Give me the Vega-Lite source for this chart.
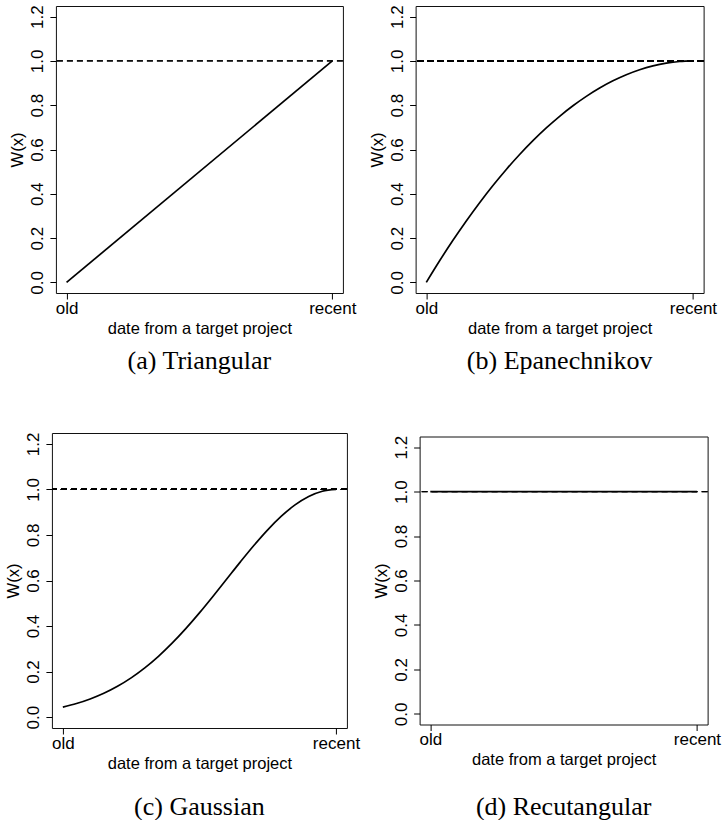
{
  "$schema": "https://vega.github.io/schema/vega-lite/v6.json",
  "padding": {"left": 4.5, "top": 4, "right": 0, "bottom": 0},
  "background": "white",
  "datasets": {
    "kernels": [
      {"kernel": "Triangular", "x": 0, "w": 0},
      {"kernel": "Triangular", "x": 1, "w": 1},
      {"kernel": "Epanechnikov", "x": 0, "w": 0},
      {"kernel": "Epanechnikov", "x": 0.05, "w": 0.0975},
      {"kernel": "Epanechnikov", "x": 0.1, "w": 0.19},
      {"kernel": "Epanechnikov", "x": 0.15, "w": 0.2775},
      {"kernel": "Epanechnikov", "x": 0.2, "w": 0.36},
      {"kernel": "Epanechnikov", "x": 0.25, "w": 0.4375},
      {"kernel": "Epanechnikov", "x": 0.3, "w": 0.51},
      {"kernel": "Epanechnikov", "x": 0.35, "w": 0.5775},
      {"kernel": "Epanechnikov", "x": 0.4, "w": 0.64},
      {"kernel": "Epanechnikov", "x": 0.45, "w": 0.6975},
      {"kernel": "Epanechnikov", "x": 0.5, "w": 0.75},
      {"kernel": "Epanechnikov", "x": 0.55, "w": 0.7975},
      {"kernel": "Epanechnikov", "x": 0.6, "w": 0.84},
      {"kernel": "Epanechnikov", "x": 0.65, "w": 0.8775},
      {"kernel": "Epanechnikov", "x": 0.7, "w": 0.91},
      {"kernel": "Epanechnikov", "x": 0.75, "w": 0.9375},
      {"kernel": "Epanechnikov", "x": 0.8, "w": 0.96},
      {"kernel": "Epanechnikov", "x": 0.85, "w": 0.9775},
      {"kernel": "Epanechnikov", "x": 0.9, "w": 0.99},
      {"kernel": "Epanechnikov", "x": 0.95, "w": 0.9975},
      {"kernel": "Epanechnikov", "x": 1, "w": 1},
      {"kernel": "Gaussian", "x": 0, "w": 0.0439},
      {"kernel": "Gaussian", "x": 0.05, "w": 0.0596},
      {"kernel": "Gaussian", "x": 0.1, "w": 0.0796},
      {"kernel": "Gaussian", "x": 0.15, "w": 0.1046},
      {"kernel": "Gaussian", "x": 0.2, "w": 0.1353},
      {"kernel": "Gaussian", "x": 0.25, "w": 0.1724},
      {"kernel": "Gaussian", "x": 0.3, "w": 0.2163},
      {"kernel": "Gaussian", "x": 0.35, "w": 0.2671},
      {"kernel": "Gaussian", "x": 0.4, "w": 0.3247},
      {"kernel": "Gaussian", "x": 0.45, "w": 0.3886},
      {"kernel": "Gaussian", "x": 0.5, "w": 0.4578},
      {"kernel": "Gaussian", "x": 0.55, "w": 0.5311},
      {"kernel": "Gaussian", "x": 0.6, "w": 0.6065},
      {"kernel": "Gaussian", "x": 0.65, "w": 0.6819},
      {"kernel": "Gaussian", "x": 0.7, "w": 0.7548},
      {"kernel": "Gaussian", "x": 0.75, "w": 0.8226},
      {"kernel": "Gaussian", "x": 0.8, "w": 0.8825},
      {"kernel": "Gaussian", "x": 0.85, "w": 0.9321},
      {"kernel": "Gaussian", "x": 0.9, "w": 0.9692},
      {"kernel": "Gaussian", "x": 0.95, "w": 0.9922},
      {"kernel": "Gaussian", "x": 1, "w": 1},
      {"kernel": "Rectangular", "x": 0, "w": 1},
      {"kernel": "Rectangular", "x": 1, "w": 1}
    ]
  },
  "config": {
    "view": {"stroke": "#111", "strokeWidth": 1},
    "axis": {
      "domain": false,
      "grid": false,
      "tickColor": "black",
      "tickSize": 6,
      "tickWidth": 1,
      "labelFont": "Liberation Sans",
      "labelFontSize": 17,
      "labelColor": "black",
      "titleFont": "Liberation Sans",
      "titleFontSize": 16.5,
      "titleFontWeight": "normal",
      "titleColor": "black"
    },
    "axisX": {"labelPadding": 1, "titlePadding": 4, "labelFlush": false},
    "axisY": {"labelPadding": 3, "titlePadding": 3, "labelAngle": -90, "labelAlign": "center", "labelBaseline": "bottom", "labelFlush": false},
    "title": {"font": "Liberation Serif", "fontSize": 26, "fontWeight": "normal", "color": "black", "orient": "bottom", "offset": 11, "anchor": "middle"},
    "line": {"color": "black", "strokeWidth": 1.7},
    "rule": {"color": "black", "strokeWidth": 1.3, "strokeDash": [6, 4]}
  },
  "spacing": 57,
  "center": true,
  "vconcat": [
    {
      "hconcat": [
        {
          "width": 287, "height": 287,
          "title": {"text": "(a) Triangular"},
          "data": {"name": "kernels"},
          "transform": [{"filter": "datum.kernel == 'Triangular'"}],
          "layer": [
            {"mark": {"type": "line"},
             "encoding": {
               "x": {"field": "x", "type": "quantitative", "scale": {"domain": [-0.04, 1.04], "nice": false, "zero": false}, "axis": {"values": [0, 1], "labelExpr": "datum.value == 0 ? 'old' : 'recent'", "title": "date from a target project"}},
               "y": {"field": "w", "type": "quantitative", "scale": {"domain": [-0.048, 1.248], "nice": false, "zero": false}, "axis": {"values": [0, 0.2, 0.4, 0.6, 0.8, 1.0, 1.2], "format": ".1f", "title": "W(x)"}}
             }},
            {"mark": {"type": "rule"}, "encoding": {"y": {"datum": 1}}}
          ]
        },
        {
          "width": 288, "height": 287,
          "title": {"text": "(b) Epanechnikov"},
          "data": {"name": "kernels"},
          "transform": [{"filter": "datum.kernel == 'Epanechnikov'"}],
          "layer": [
            {"mark": {"type": "line", "interpolate": "monotone"},
             "encoding": {
               "x": {"field": "x", "type": "quantitative", "scale": {"domain": [-0.04, 1.04], "nice": false, "zero": false}, "axis": {"values": [0, 1], "labelExpr": "datum.value == 0 ? 'old' : 'recent'", "title": "date from a target project"}},
               "y": {"field": "w", "type": "quantitative", "scale": {"domain": [-0.048, 1.248], "nice": false, "zero": false}, "axis": {"values": [0, 0.2, 0.4, 0.6, 0.8, 1.0, 1.2], "format": ".1f", "title": "W(x)"}}
             }},
            {"mark": {"type": "rule"}, "encoding": {"y": {"datum": 1}}}
          ]
        }
      ],
      "spacing": 72.7,
      "bounds": "flush"
    },
    {
      "hconcat": [
        {
          "width": 295, "height": 295,
          "title": {"text": "(c) Gaussian", "offset": 22},
          "data": {"name": "kernels"},
          "transform": [{"filter": "datum.kernel == 'Gaussian'"}],
          "layer": [
            {"mark": {"type": "line", "interpolate": "monotone"},
             "encoding": {
               "x": {"field": "x", "type": "quantitative", "scale": {"domain": [-0.04, 1.04], "nice": false, "zero": false}, "axis": {"values": [0, 1], "labelExpr": "datum.value == 0 ? 'old' : 'recent'", "title": "date from a target project"}},
               "y": {"field": "w", "type": "quantitative", "scale": {"domain": [-0.048, 1.248], "nice": false, "zero": false}, "axis": {"values": [0, 0.2, 0.4, 0.6, 0.8, 1.0, 1.2], "format": ".1f", "title": "W(x)"}}
             }},
            {"mark": {"type": "rule"}, "encoding": {"y": {"datum": 1}}}
          ]
        },
        {
          "width": 288, "height": 288,
          "title": {"text": "(d) Recutangular", "offset": 25.5},
          "data": {"name": "kernels"},
          "transform": [{"filter": "datum.kernel == 'Rectangular'"}],
          "layer": [
            {"mark": {"type": "line"},
             "encoding": {
               "x": {"field": "x", "type": "quantitative", "scale": {"domain": [-0.04, 1.04], "nice": false, "zero": false}, "axis": {"values": [0, 1], "labelExpr": "datum.value == 0 ? 'old' : 'recent'", "title": "date from a target project"}},
               "y": {"field": "w", "type": "quantitative", "scale": {"domain": [-0.048, 1.248], "nice": false, "zero": false}, "axis": {"values": [0, 0.2, 0.4, 0.6, 0.8, 1.0, 1.2], "format": ".1f", "title": "W(x)"}}
             }},
            {"mark": {"type": "rule"}, "encoding": {"y": {"datum": 1}}}
          ]
        }
      ],
      "spacing": 72.7,
      "bounds": "flush",
      "center": true
    }
  ]
}
